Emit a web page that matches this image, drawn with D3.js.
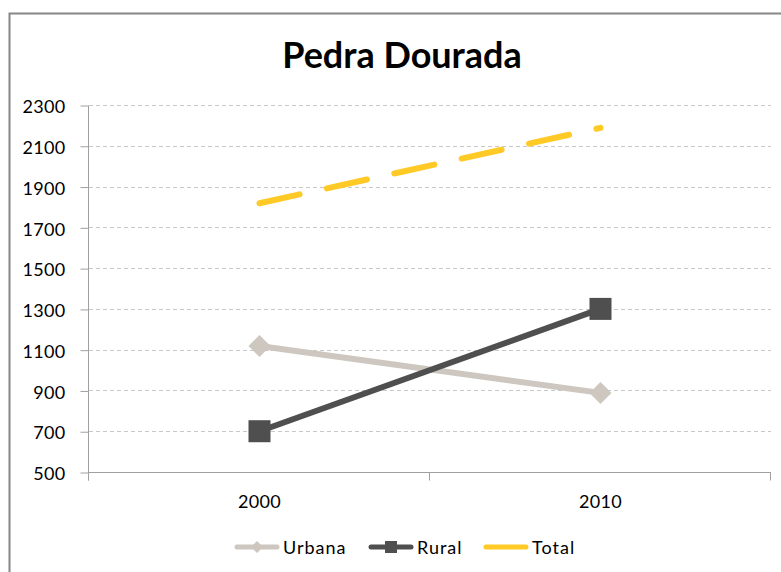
<!DOCTYPE html>
<html>
<head>
<meta charset="utf-8">
<script src="https://cdn.jsdelivr.net/npm/d3@7"></script>
<style>
  body { margin: 0; background: #fff; }
  svg text { font-family: Lato, "Open Sans", sans-serif; }
</style>
</head>
<body>
<svg width="781" height="572"></svg>
<script>
let width = 781, height = 572;

// data
let years = ["2000", "2010"];
let urbana = [1118, 888];
let rural = [700, 1300];
let total = [1818, 2188];
let yTicks = [500, 700, 900, 1100, 1300, 1500, 1700, 1900, 2100, 2300];

let svg = d3.select("svg");

// outer frame
svg.append("rect")
    .attr("x", 9.5).attr("y", 13.5)
    .attr("width", 800).attr("height", 600)
    .attr("fill", "none")
    .attr("stroke", "#868686")
    .attr("stroke-width", 2);

svg.append("text")
    .attr("x", 402).attr("y", 68)
    .attr("text-anchor", "middle")
    .attr("font-size", 36)
    .attr("font-weight", "bold")
    .text("Pedra Dourada");

let pLeft = 89, pRight = 771, pTop = 105, pBottom = 472;

let x = d3.scaleBand().domain(years).range([pLeft, pRight]);
let y = d3.scaleLinear().domain([500, 2300]).range([pBottom, pTop]);

// gridlines
svg.append("g")
    .selectAll("line")
    .data(yTicks.slice(1))
    .enter()
    .append("line")
    .attr("x1", pLeft).attr("x2", pRight)
    .attr("y1", d => Math.round(y(d)) + 0.5)
    .attr("y2", d => Math.round(y(d)) + 0.5)
    .attr("stroke", "#c8c8c8")
    .attr("stroke-dasharray", "4,3");

// y axis
let yAxis = svg.append("g")
    .attr("transform", "translate(" + (pLeft - 0.5) + ",0.5)")
    .call(d3.axisLeft(y).tickValues(yTicks).tickFormat(d3.format("d"))
        .tickSize(8).tickSizeOuter(0).tickPadding(15));
yAxis.select(".domain").attr("stroke", "#a0a0a0").attr("d", "M0," + pTop + "V" + (pBottom + 8));
yAxis.selectAll(".tick line").attr("stroke", "#a0a0a0");
yAxis.selectAll("text")
    .attr("font-size", 18)
    .attr("font-family", "Lato")
    .attr("letter-spacing", 0.3)
    .attr("fill", "#000")
    .attr("dy", "0.4em");

// x axis
let xAxis = svg.append("g")
    .attr("transform", "translate(0," + (pBottom + 0.5) + ")");
xAxis.append("line")
    .attr("x1", pLeft).attr("x2", pRight)
    .attr("stroke", "#a0a0a0");
xAxis.selectAll("line.tk")
    .data([pLeft, pLeft + x.step(), pRight])
    .enter()
    .append("line")
    .attr("class", "tk")
    .attr("x1", d => Math.round(d) - 0.5).attr("x2", d => Math.round(d) - 0.5)
    .attr("y1", 0).attr("y2", 8)
    .attr("stroke", "#a0a0a0");
xAxis.selectAll("text")
    .data(years)
    .enter()
    .append("text")
    .attr("x", d => x(d) + x.bandwidth() / 2)
    .attr("y", 35)
    .attr("text-anchor", "middle")
    .attr("font-size", 18)
    .attr("letter-spacing", 0.3)
    .text(d => d);

let cx = (d, i) => x(years[i]) + x.bandwidth() / 2;
let line = d3.line().x(cx).y(d => y(d));

// Total
svg.append("path")
    .attr("d", line(total))
    .attr("fill", "none")
    .attr("stroke", "#ffc926")
    .attr("stroke-width", 6)
    .attr("stroke-linecap", "round")
    .attr("stroke-dasharray", "41,28");

// Urbana
svg.append("path")
    .attr("d", line(urbana))
    .attr("fill", "none")
    .attr("stroke", "#cdc7c0")
    .attr("stroke-width", 6);
svg.selectAll(".urb")
    .data(urbana)
    .enter()
    .append("path")
    .attr("class", "urb")
    .attr("d", "M0,-11L11,0L0,11L-11,0Z")
    .attr("transform", (d, i) => "translate(" + cx(d, i) + "," + y(d) + ")")
    .attr("fill", "#cdc7c0");

// Rural
svg.append("path")
    .attr("d", line(rural))
    .attr("fill", "none")
    .attr("stroke", "#4f4f4f")
    .attr("stroke-width", 6);
svg.selectAll(".rur")
    .data(rural)
    .enter()
    .append("rect")
    .attr("class", "rur")
    .attr("x", (d, i) => cx(d, i) - 11)
    .attr("y", d => y(d) - 11)
    .attr("width", 22).attr("height", 22)
    .attr("fill", "#4f4f4f");

// legend
let legend = [
  {name: "Urbana", color: "#cdc7c0", x: 234, mark: "diamond"},
  {name: "Rural", color: "#4f4f4f", x: 368, mark: "square"},
  {name: "Total", color: "#ffc926", x: 483, mark: null}
];
let ly = 547;
let lg = svg.append("g").selectAll("g").data(legend).enter().append("g");
lg.append("line")
    .attr("x1", d => d.x + 3).attr("x2", d => d.x + 43)
    .attr("y1", ly).attr("y2", ly)
    .attr("stroke", d => d.color)
    .attr("stroke-width", 5)
    .attr("stroke-linecap", "round");
lg.filter(d => d.mark == "diamond").append("path")
    .attr("d", d => "M" + (d.x + 23) + "," + (ly - 6) + "l6,6l-6,6l-6,-6Z")
    .attr("fill", d => d.color);
lg.filter(d => d.mark == "square").append("rect")
    .attr("x", d => d.x + 17).attr("y", ly - 6)
    .attr("width", 12).attr("height", 12)
    .attr("fill", d => d.color);
lg.append("text")
    .attr("x", d => d.x + 49)
    .attr("y", ly + 7)
    .attr("font-size", 18)
    .attr("letter-spacing", 1)
    .text(d => d.name);
</script>
</body>
</html>
